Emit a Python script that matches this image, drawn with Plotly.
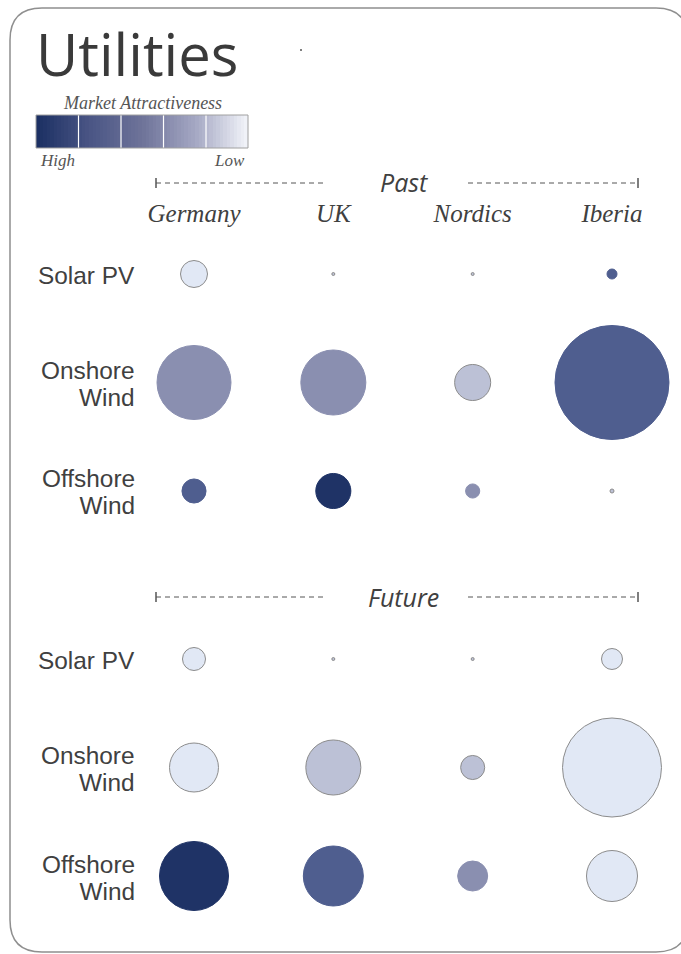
import plotly.graph_objects as go

# ---------------- data ----------------
countries = ["Germany", "UK", "Nordics", "Iberia"]
technologies = ["Solar PV", "Onshore Wind", "Offshore Wind"]
tech_lines = [["Solar PV"], ["Onshore", "Wind"], ["Offshore", "Wind"]]

# relative market size (bubble area), rows = technologies, cols = countries
past_size = [
    [7.3, 0.04, 0.04, 1.0],
    [54.8, 42.3, 13.0, 130.0],
    [5.8, 12.3, 2.0, 0.16],
]
# market attractiveness level: 1 = High ... 5 = Low
past_level = [
    [5, 4, 4, 2],
    [3, 3, 4, 2],
    [2, 1, 3, 4],
]
future_size = [
    [5.3, 0.04, 0.04, 4.4],
    [24.0, 30.3, 5.8, 98.0],
    [47.6, 36.0, 9.0, 26.0],
]
future_level = [
    [5, 4, 4, 5],
    [5, 4, 4, 5],
    [1, 2, 3, 5],
]
legend_steps = list(range(60))

# ---------------- styling ----------------
W, H = 681, 954
level_colors = {1: "#1f3366", 2: "#4f5e8f", 3: "#8a8fb0", 4: "#bcc1d6", 5: "#e1e8f5"}
SANS = "Open Sans"
LABEL_SANS = "Liberation Sans"
SERIF = "Liberation Serif"
TXT = "#404040"


def px(x):
    return x / W


def py(y):
    return 1 - y / H


def flat(rows):
    return [v for r in rows for v in r]


def make_trace(sizes, levels, xa, ya):
    xs = [c for _ in technologies for c in countries]
    ys = [t for t in technologies for _ in countries]
    lv = flat(levels)
    cols = [level_colors[l] for l in lv]
    lines = ["#8c8c8c" if l >= 4 else level_colors[l] for l in lv]
    return go.Scatter(
        x=xs, y=ys, mode="markers", xaxis=xa, yaxis=ya, cliponaxis=False,
        hoverinfo="skip", showlegend=False,
        marker=dict(size=flat(sizes), sizemode="area", sizeref=0.02, sizemin=1.5,
                    color=cols, opacity=1,
                    line=dict(color=lines, width=1)),
    )


fig = go.Figure()
fig.add_trace(make_trace(past_size, past_level, "x", "y"))
fig.add_trace(make_trace(future_size, future_level, "x2", "y2"))

# gradient legend bar
fig.add_trace(go.Heatmap(
    z=[legend_steps], xaxis="x3", yaxis="y3", showscale=False, hoverinfo="skip",
    colorscale=[[0, "#1c3063"], [0.25, "#4a5585"], [0.5, "#6e7399"],
                [0.75, "#a3a6c2"], [1, "#f0f2f8"]],
))

# axis geometry
col_px = [194, 612]
x_left, x_right = 136, 674
unit = (col_px[1] - col_px[0]) / 3
xr = [-(col_px[0] - x_left) / unit, 3 + (x_right - col_px[1]) / unit]

row_unit = 108.5


def yrange(top_px, bottom_px, first_row_px):
    top = -(first_row_px - top_px) / row_unit
    bottom = 2 + (bottom_px - (first_row_px + 2 * row_unit)) / row_unit
    return [bottom, top]


xcommon = dict(showgrid=False, zeroline=False, showline=False, ticks="",
               categoryorder="array", categoryarray=countries, range=xr,
               domain=[px(x_left), px(x_right)])
ycommon = dict(showgrid=False, zeroline=False, showline=False, ticks="",
               categoryorder="array", categoryarray=technologies,
               showticklabels=False)

fig.update_layout(
    width=W, height=H, margin=dict(l=0, r=0, t=0, b=0),
    paper_bgcolor="white", plot_bgcolor="rgba(0,0,0,0)",
    xaxis=dict(**xcommon, side="top", anchor="y", ticklabelstandoff=12,
               tickfont=dict(family=SERIF, size=25, color=TXT, style="italic")),
    yaxis=dict(**ycommon, domain=[py(530), py(240)], range=yrange(240, 530, 274)),
    xaxis2=dict(**xcommon, anchor="y2", showticklabels=False),
    yaxis2=dict(**ycommon, domain=[py(920), py(620)], range=yrange(620, 920, 659)),
    xaxis3=dict(domain=[px(36), px(248)], anchor="y3", visible=False,
                range=[-0.5, len(legend_steps) - 0.5]),
    yaxis3=dict(domain=[py(148), py(115)], anchor="x3", visible=False, range=[-0.5, 0.5]),
)

shapes = []
# rounded border
x0, y0, x1, y1, r = 10, 8, 688, 952, 32
path = (f"M {px(x0)},{py(y0 + r)} Q {px(x0)},{py(y0)} {px(x0 + r)},{py(y0)} "
        f"L {px(x1 - r)},{py(y0)} Q {px(x1)},{py(y0)} {px(x1)},{py(y0 + r)} "
        f"L {px(x1)},{py(y1 - r)} Q {px(x1)},{py(y1)} {px(x1 - r)},{py(y1)} "
        f"L {px(x0 + r)},{py(y1)} Q {px(x0)},{py(y1)} {px(x0)},{py(y1 - r)} Z")
shapes.append(dict(type="path", path=path, xref="paper", yref="paper",
                   line=dict(color="#8f8f8f", width=1.5)))
# legend bar dividers and border
for xd in [78.5, 121, 163.5, 206]:
    shapes.append(dict(type="line", xref="paper", yref="paper",
                       x0=px(xd), x1=px(xd), y0=py(115), y1=py(148),
                       line=dict(color="white", width=1.2)))
shapes.append(dict(type="rect", xref="paper", yref="paper",
                   x0=px(36), x1=px(248), y0=py(148), y1=py(115),
                   line=dict(color="#a0a0a0", width=1)))
# section headers (dashed brackets)
for yy in [183, 597]:
    for xa_, xb_ in [(156, 326), (468, 638)]:
        shapes.append(dict(type="line", xref="paper", yref="paper",
                           x0=px(xa_), x1=px(xb_), y0=py(yy), y1=py(yy),
                           line=dict(color="#555555", width=1, dash="5px,4px")))
    for xe in [156, 638]:
        shapes.append(dict(type="line", xref="paper", yref="paper",
                           x0=px(xe), x1=px(xe), y0=py(yy - 5), y1=py(yy + 5),
                           line=dict(color="#555555", width=1.5)))
# stray dot near title
shapes.append(dict(type="circle", xref="paper", yref="paper",
                   x0=px(300), x1=px(302), y0=py(51), y1=py(49),
                   fillcolor="#555555", line=dict(width=0)))
fig.update_layout(shapes=shapes)

ann = [
    dict(text="Utilities", x=px(34), y=py(53), xanchor="left", yanchor="middle",
         font=dict(family=SANS, size=58, color="#3a3a3a")),
    dict(text="Market Attractiveness", x=px(142), y=py(103), xanchor="center", yanchor="middle",
         font=dict(family=SERIF, size=18, color="#555555", style="italic")),
    dict(text="High", x=px(38), y=py(160), xanchor="left", yanchor="middle",
         font=dict(family=SERIF, size=17, color="#555555", style="italic")),
    dict(text="Low", x=px(247), y=py(160), xanchor="right", yanchor="middle",
         font=dict(family=SERIF, size=17, color="#555555", style="italic")),
    dict(text="Past", x=px(404), y=py(182), xanchor="center", yanchor="middle",
         font=dict(family=SANS, size=25, color=TXT, style="italic")),
    dict(text="Future", x=px(404), y=py(597), xanchor="center", yanchor="middle",
         font=dict(family=SANS, size=25, color=TXT, style="italic")),
]
for a in ann:
    a.update(xref="paper", yref="paper", showarrow=False)

# row labels: right-aligned, one text per row; base font sets the 27px line pitch,
# inner span sets the glyph size
LINE_PITCH = 27.3
GLYPH = 24.4
for ya in ["y", "y2"]:
    for tech, lines in zip(technologies, tech_lines):
        txt = "<br>".join(f"<span style='font-size:{GLYPH}px'>{ln}</span>" for ln in lines)
        ann.append(dict(text=txt, xref="paper", yref=ya, x=px(137), y=tech,
                        xanchor="right", yanchor="middle", align="right", showarrow=False,
                        yshift=-1.5,
                        font=dict(family=LABEL_SANS, size=LINE_PITCH / 1.3, color=TXT)))
fig.update_layout(annotations=ann)

fig.write_html("out.html", config={"displayModeBar": False},
               post_script="document.body.style.margin='0';document.body.style.overflow='hidden';")
